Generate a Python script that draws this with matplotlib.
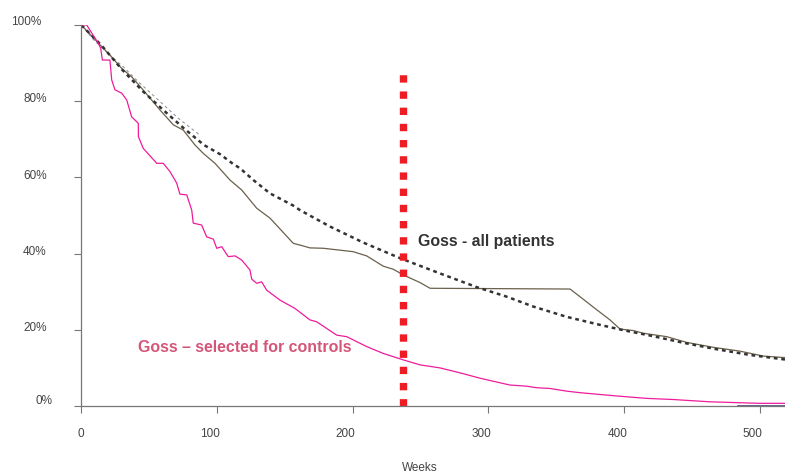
import matplotlib
matplotlib.use("Agg")
import matplotlib.pyplot as plt
from matplotlib.transforms import ScaledTranslation

plt.rcParams['font.family'] = ['Liberation Sans', 'DejaVu Sans']

# Goss - selected for controls (pink step curve), % surviving by week
ctrl_weeks = [0, 4, 12.5, 14.3, 15.5, 21.1, 22.4, 24.8, 29.8, 33.5, 37.1, 42, 42.1, 45.7,
              55.6, 60.4, 65.4, 70.3, 72.7, 77.7, 81.4, 82.5, 88.7, 92.4, 97.3, 99.8,
              103.5, 108.3, 113.3, 118.2, 124.3, 125.6, 129.3, 132.9, 136.6, 146.4,
              157.5, 168.5, 173.5, 188.2, 195.6, 210.3, 222.5, 237.3, 249.6, 264.3,
              279.1, 293.8, 308.5, 315.9, 328.2, 335.6, 345.4, 357.7, 367.5, 379.8,
              395.7, 416.7, 436.3, 463.3, 500.1, 518.6]
ctrl_pct = [100, 100, 95.2, 93.9, 90.8, 90.8, 85.6, 83.0, 82.1, 80.3, 75.9, 74.2, 70.7, 67.6,
            63.7, 63.7, 61.5, 58.5, 55.6, 55.4, 51.4, 48.0, 47.5, 44.4, 43.8, 41.4,
            41.8, 39.2, 39.4, 38.3, 35.7, 33.3, 32.2, 32.6, 30.4, 27.8,
            25.6, 22.6, 22.1, 18.6, 18.2, 15.6, 13.8, 12.1, 10.8, 10.0,
            8.7, 7.3, 6.1, 5.5, 5.2, 4.8, 4.6, 3.9, 3.5, 3.1,
            2.6, 2.0, 1.7, 1.1, 0.7, 0.7]

# Goss - all patients (observed, brown)
all_weeks = [0, 13.8, 21.1, 29.8, 37.1, 44.5, 58.0, 67.8, 75.2, 83.8, 89.9, 98.5, 109.6,
             118.2, 129.3, 139.1, 156.2, 163.6, 168.5, 178.3, 185.7, 193.1, 200.4,
             210.3, 222.5, 229.9, 237.3, 249.6, 257.0, 360.2, 367.5, 378.6, 389.6,
             397.0, 406.8, 414.1, 431.4, 446.1, 465.7, 485.4, 502.6, 518.6]
all_pct = [100, 94.8, 92.1, 88.6, 86.4, 83.4, 77.7, 73.8, 72.4, 68.5, 66.3, 63.7, 59.3,
           56.7, 51.9, 49.3, 42.7, 42.0, 41.5, 41.4, 41.1, 40.8, 40.5,
           39.4, 36.7, 35.9, 34.4, 32.4, 30.9, 30.7, 28.7, 25.6, 22.6,
           20.2, 19.8, 19.1, 18.2, 16.7, 15.4, 14.4, 13.1, 12.7]

# fitted curve (thick dotted)
fit_weeks = [0, 15, 30, 45.7, 60.4, 75.2, 90.4, 102.2, 112.0, 117.0, 126.8, 139.1, 156.2,
             161.2, 183.3, 207.8, 234.9, 264.3, 291.4, 313.5, 333.1, 357.7, 382.2,
             399.4, 419.1, 443.6, 468.2, 492.8, 518.6]
fit_pct = [100, 94.6, 88.3, 82.5, 77.7, 73.0, 68.5, 66.1, 63.5, 62.4, 59.3, 55.8, 52.6,
           51.4, 47.1, 42.9, 38.8, 34.8, 31.2, 28.7, 26.1, 23.4, 21.3,
           19.9, 18.5, 16.6, 14.9, 13.4, 12.2]

# early fitted curve (thin dashed)
early_weeks = [0, 8.8, 21.1, 31, 42, 56.8, 71.5, 87.4]
early_pct = [100, 96.2, 92.1, 89, 85.1, 80.3, 75.5, 71.1]

cutoff_week = 237
cutoff_top = 87.5

zero_weeks = [484, 518.6]
zero_pct = [0, 0]

xticks = [0, 100, 200, 300, 400, 500]
yticks = [0, 20, 40, 60, 80, 100]
ylabels = ['0%', '20%', '40%', '60%', '80%', '100%']

fig = plt.figure(figsize=(7.85, 4.74), dpi=100)
ax = fig.add_axes([81.3 / 785, 68 / 474, (785 - 81.3) / 785, 381 / 474])

ax.plot(early_weeks, early_pct, color='#8a8a8a', lw=0.7, dashes=(3, 3))
ax.plot(all_weeks, all_pct, color='#6b604c', lw=0.9)
ax.plot(fit_weeks, fit_pct, color='#333333', lw=1.8, dashes=(1.5, 1.5))
ax.plot(ctrl_weeks, ctrl_pct, color='#ee1c9c', lw=0.9)
ax.plot(zero_weeks, zero_pct, color='#4a4a78', lw=1.2, clip_on=False)
ax.plot([cutoff_week, cutoff_week], [0, cutoff_top], color='#ee1c24', lw=5.3,
        dashes=(1, 1.2), solid_capstyle='butt', dash_capstyle='butt')

ax.text(248, 43.3, 'Goss - all patients', fontsize=11.4, fontweight='bold',
        color='#333333', va='center', ha='left')
ax.text(42, 15.3, 'Goss \u2013 selected for controls', fontsize=11.4, fontweight='bold',
        color='#d4567a', va='center', ha='left')

ax.set_xlim(0, 518.6)
ax.set_ylim(0, 100)
for s in ['top', 'right']:
    ax.spines[s].set_visible(False)
for s in ['left', 'bottom']:
    ax.spines[s].set_color('#777777')
    ax.spines[s].set_linewidth(0.9)

ax.set_xticks(xticks)
ax.set_xticklabels([str(t) for t in xticks])
ax.set_yticks(yticks)
ax.set_yticklabels(ylabels)
ax.tick_params(direction='out', length=5, width=0.8, color='#777777',
               labelsize=8.5, labelcolor='#444444')
ax.tick_params(axis='x', pad=11)
ax.tick_params(axis='y', pad=20)

for lab in ax.get_xticklabels():
    lab.set_horizontalalignment('right')
    lab.set_transform(lab.get_transform() + ScaledTranslation(0.03, 0, fig.dpi_scale_trans))

ydx = [0.057, 0, 0, 0, 0, -0.05]
ydy = [0.06, 0.033, 0.033, 0.027, 0.034, 0.043]
for lab, dx, dy in zip(ax.get_yticklabels(), ydx, ydy):
    lab.set_transform(lab.get_transform() + ScaledTranslation(dx, dy, fig.dpi_scale_trans))

ax.set_xlabel('Weeks', fontsize=8.5, color='#444444')
ax.xaxis.set_label_coords((420 - 81.3) / (785 - 81.3), -0.148)

fig.savefig('out.png', dpi=100)
